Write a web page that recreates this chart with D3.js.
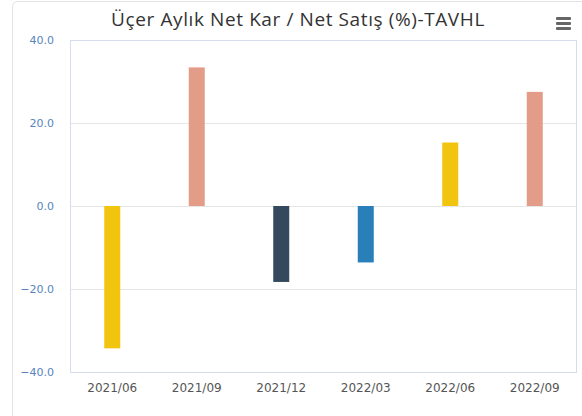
<!DOCTYPE html>
<html><head><meta charset="utf-8">
<script src="https://cdn.jsdelivr.net/npm/d3@7"></script>
<style>body{margin:0;background:#fff}svg{display:block}</style>
</head><body>
<script>
const categories = ["2021/06","2021/09","2021/12","2022/03","2022/06","2022/09"];
const values = [-34.3, 33.4, -18.3, -13.6, 15.3, 27.5];
const barColors = ["#f1c40f","#e39c88","#34495e","#2980b9","#f1c40f","#e39c88"];
const yTicks = [-40, -20, 0, 20, 40];
const title = "Üçer Aylık Net Kar / Net Satış (%)-TAVHL";

const W = 582, H = 416;
const svg = d3.select("body").append("svg").attr("width", W).attr("height", H);

// card
svg.append("rect").attr("x", 12.5).attr("y", 1.5).attr("width", 600).attr("height", 440)
  .attr("rx", 5).attr("fill", "#fff").attr("stroke", "#e3e3e3");

const plot = {left: 70, top: 40, right: 577, bottom: 372};
const x = d3.scaleBand().domain(categories).range([plot.left, plot.right]);
const y = d3.scaleLinear().domain([-40, 40]).range([plot.bottom, plot.top]);

// grid
svg.append("g").selectAll("line").data(yTicks).join("line")
  .attr("x1", plot.left).attr("x2", plot.right)
  .attr("y1", d => Math.round(y(d)) + 0.5).attr("y2", d => Math.round(y(d)) + 0.5)
  .attr("stroke", "#e6e6e6");

// plot border
svg.append("rect").attr("x", plot.left + 0.5).attr("y", plot.top + 0.5)
  .attr("width", plot.right - plot.left - 1).attr("height", plot.bottom - plot.top)
  .attr("fill", "none").attr("stroke", "#d5ddec");

// y axis labels
const yAxis = d3.axisLeft(y).tickValues(yTicks).tickFormat(d3.format(".1f")).tickSize(0).tickPadding(16);
const gy = svg.append("g").attr("transform", `translate(${plot.left},0)`).call(yAxis);
gy.select(".domain").remove();
gy.selectAll("text").attr("fill", "#5584c0").style("font-family", "DejaVu Sans, sans-serif").style("font-size", "11px");

// x axis labels
const xAxis = d3.axisBottom(x).tickSize(0).tickPadding(11);
const gx = svg.append("g").attr("transform", `translate(0,${plot.bottom})`).call(xAxis);
gx.select(".domain").remove();
gx.selectAll("text").attr("fill", "#555").style("font-family", "DejaVu Sans, sans-serif").style("font-size", "12px");

// bars
const bw = 16;
svg.append("g").selectAll("rect").data(values).join("rect")
  .attr("x", (d, i) => x(categories[i]) + x.bandwidth() / 2 - bw / 2)
  .attr("y", d => y(Math.max(0, d)))
  .attr("width", bw)
  .attr("height", d => Math.abs(y(d) - y(0)))
  .attr("fill", (d, i) => barColors[i]);

// title
svg.append("text").attr("x", 298).attr("y", 26).attr("text-anchor", "middle")
  .style("font-family", "Open Sans, sans-serif").style("font-size", "19px")
  .style("letter-spacing", "0.6px").attr("fill", "#333")
  .text(title);

// menu icon
const menu = svg.append("g");
[0, 5, 10].forEach(o => menu.append("rect").attr("x", 556).attr("y", 17 + o).attr("width", 15).attr("height", 3).attr("rx", 1).attr("fill", "#666"));
</script>
</body></html>
